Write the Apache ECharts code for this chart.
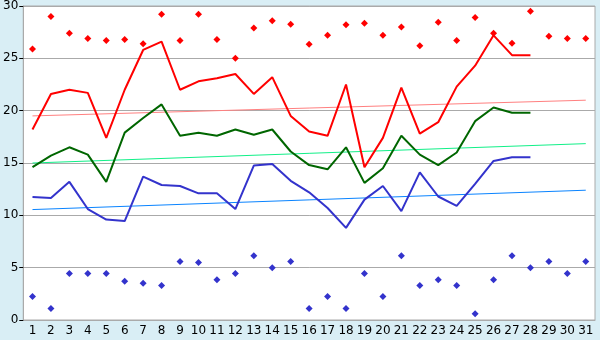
<!DOCTYPE html>
<html>
<head>
<meta charset="utf-8">
<script src="https://cdn.jsdelivr.net/npm/echarts@6/dist/echarts.min.js"></script>
<style>
html, body { margin: 0; padding: 0; background: #d9eef5; }
#container { width: 600px; height: 340px; }
</style>
</head>
<body>
<div id="container"></div>
<script>
var days = [];
for (var d = 1; d <= 31; d++) days.push(String(d));

// daily values (28 days)
var maxTemp = [18.2, 21.6, 22.0, 21.7, 17.4, 22.0, 25.8, 26.6, 22.0, 22.8, 23.1, 23.5, 21.6, 23.2, 19.5, 18.0, 17.6, 22.5, 14.6, 17.4, 22.2, 17.8, 18.9, 22.3, 24.3, 27.2, 25.3, 25.3];
var meanTemp = [14.6, 15.7, 16.5, 15.8, 13.2, 17.9, 19.3, 20.6, 17.6, 17.9, 17.6, 18.2, 17.7, 18.2, 16.1, 14.8, 14.4, 16.5, 13.1, 14.5, 17.6, 15.8, 14.8, 16.0, 19.0, 20.3, 19.8, 19.8];
var minTemp = [11.75, 11.65, 13.2, 10.6, 9.6, 9.45, 13.7, 12.9, 12.8, 12.1, 12.1, 10.6, 14.75, 14.9, 13.3, 12.2, 10.7, 8.8, 11.5, 12.8, 10.4, 14.1, 11.8, 10.9, 13.0, 15.2, 15.55, 15.55];

// records (31 days)
var recordHigh = [25.9, 29.0, 27.4, 26.9, 26.7, 26.8, 26.4, 29.2, 26.7, 29.2, 26.8, 25.0, 27.9, 28.6, 28.25, 26.35, 27.2, 28.2, 28.35, 27.2, 28.0, 26.2, 28.45, 26.7, 28.9, 27.4, 26.45, 29.5, 27.1, 26.9, 26.9];
var recordLow = [2.25, 1.1, 4.45, 4.45, 4.45, 3.7, 3.5, 3.3, 5.6, 5.5, 3.85, 4.45, 6.15, 5.0, 5.6, 1.1, 2.25, 1.1, 4.45, 2.25, 6.15, 3.3, 3.85, 3.3, 0.6, 3.85, 6.15, 5.0, 5.6, 4.45, 5.6];

// trend lines: value at day 1 and day 31
var trendMax = [19.5, 21.0];
var trendMean = [15.0, 16.85];
var trendMin = [10.55, 12.4];

function trend(v) {
    return [[0, v[0]], [days.length - 1, v[1]]];
}

var dom = document.getElementById("container");
var myChart = echarts.init(dom);
var option = {
    backgroundColor: '#d9eef5',
    animation: false,
    grid: {
        left: 20, right: 5, top: 5, bottom: 20,
        show: true,
        backgroundColor: '#fff',
        borderColor: '#aaa',
        borderWidth: 1
    },
    xAxis: {
        type: 'category',
        data: days,
        boundaryGap: true,
        axisLine: { lineStyle: { color: '#aaa' } },
        axisTick: { alignWithLabel: true, length: 4, lineStyle: { color: '#000' } },
        axisLabel: { color: '#000', fontSize: 12, margin: 5, interval: 0, fontFamily: 'DejaVu Sans' },
        splitLine: { show: false }
    },
    yAxis: {
        type: 'value',
        min: 0, max: 30, interval: 5,
        axisLine: { show: true, lineStyle: { color: '#aaa' } },
        axisTick: { show: true, length: 4, lineStyle: { color: '#000' } },
        axisLabel: { color: '#000', fontSize: 12, margin: 5, fontFamily: 'DejaVu Sans' },
        splitLine: { lineStyle: { color: '#aaa' } }
    },
    series: [
        { type: 'line', data: trend(trendMax), symbol: 'none', lineStyle: { color: '#ff8080', width: 1 } },
        { type: 'line', data: trend(trendMean), symbol: 'none', lineStyle: { color: '#11f088', width: 1 } },
        { type: 'line', data: trend(trendMin), symbol: 'none', lineStyle: { color: '#0a84ff', width: 1 } },
        { type: 'line', data: maxTemp, symbol: 'none', lineStyle: { color: '#ff0000', width: 2 } },
        { type: 'line', data: meanTemp, symbol: 'none', lineStyle: { color: '#006600', width: 2 } },
        { type: 'line', data: minTemp, symbol: 'none', lineStyle: { color: '#3333cc', width: 2 } },
        { type: 'scatter', data: recordHigh, symbol: 'diamond', symbolSize: 7, itemStyle: { color: '#ff0000', opacity: 1 } },
        { type: 'scatter', data: recordLow, symbol: 'diamond', symbolSize: 7, itemStyle: { color: '#3333cc', opacity: 1 } }
    ]
};
myChart.setOption(option, true);
</script>
</body>
</html>
